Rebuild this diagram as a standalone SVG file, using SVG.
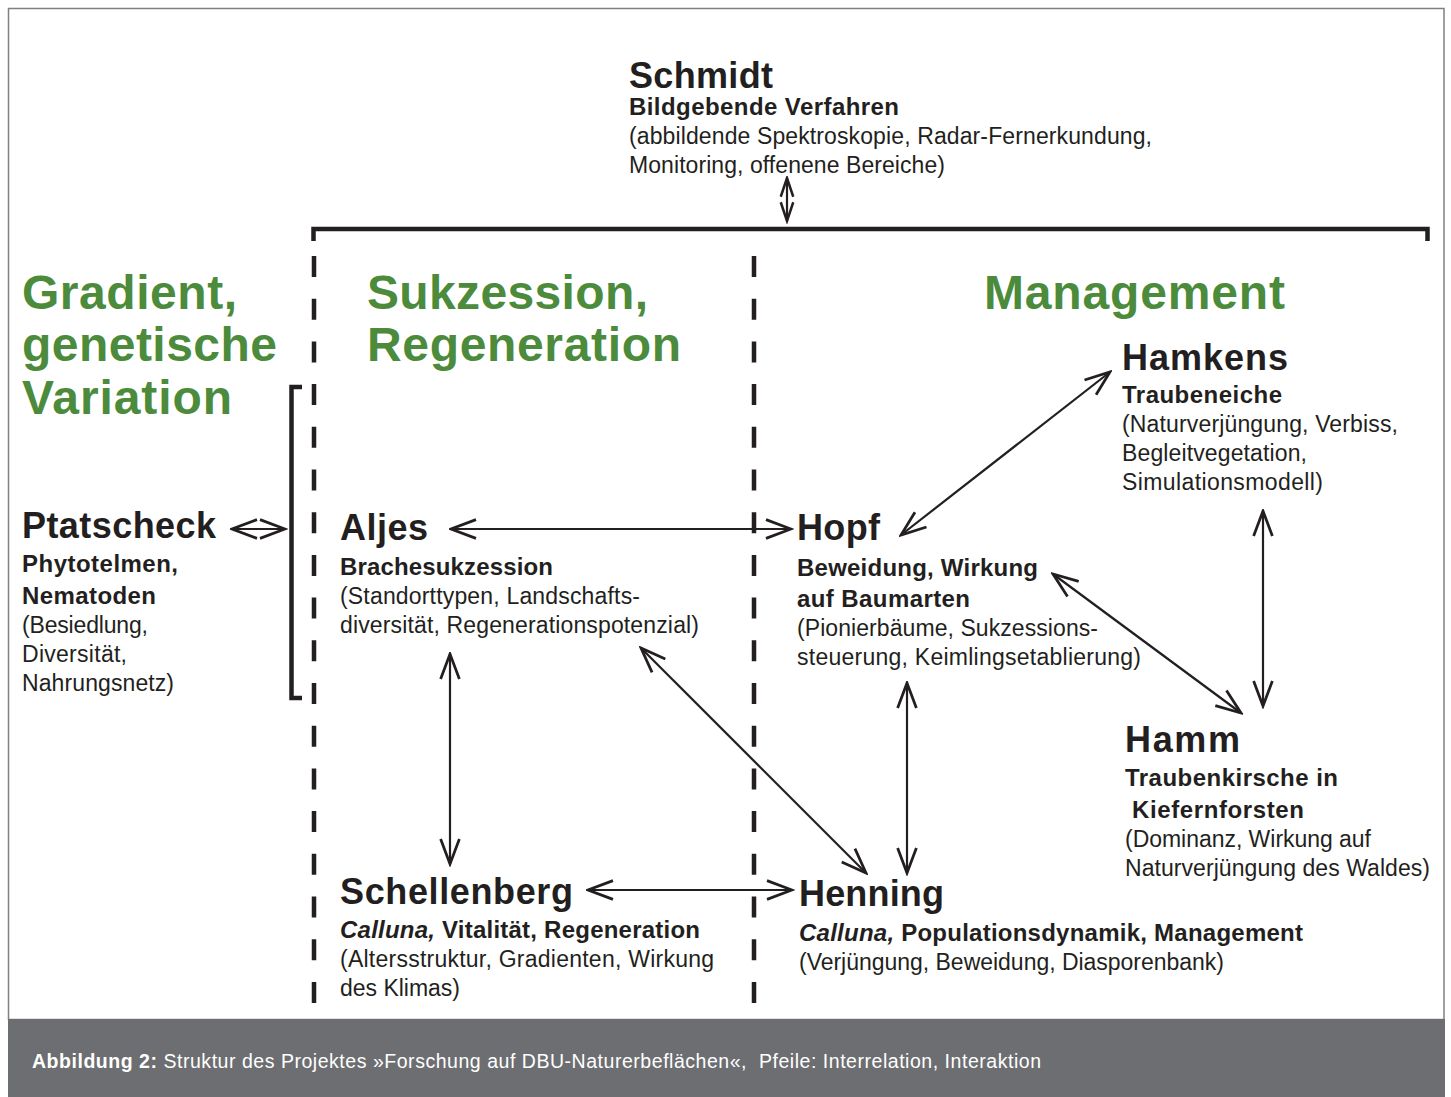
<svg xmlns="http://www.w3.org/2000/svg" width="1451" height="1097" viewBox="0 0 1451 1097">
<style>
text{font-family:"Liberation Sans",Arial,sans-serif;fill:#231f20}
.nm{font-size:36px;font-weight:bold}
.sb{font-size:24px;font-weight:bold}
.bd{font-size:23px}
.gr{font-size:48px;font-weight:bold;fill:#4b8b3b}
.cap{font-size:19.5px;fill:#fff;white-space:pre}
.arr{stroke:#231f20;stroke-width:2.2;fill:none;marker-start:url(#ah);marker-end:url(#ah)}
.arrs{stroke:#231f20;stroke-width:2.2;fill:none;marker-start:url(#ahs);marker-end:url(#ahs)}
.dash{stroke:#231f20;stroke-width:4.5;stroke-dasharray:21 21.7;fill:none}
.brk{stroke:#231f20;stroke-width:4.5;fill:none}
</style>
<defs>
<marker id="ah" markerUnits="userSpaceOnUse" markerWidth="30" markerHeight="30" viewBox="-22 -10 24 20" refX="0" refY="0" orient="auto-start-reverse">
<path d="M-20,-7.5 L0,0 L-20,7.5" fill="none" stroke="#231f20" stroke-width="2.2"/>
</marker>
<marker id="ahs" markerUnits="userSpaceOnUse" markerWidth="30" markerHeight="30" viewBox="-22 -10 24 20" refX="0" refY="0" orient="auto-start-reverse">
<path d="M-15,-5 L0,0 L-15,5" fill="none" stroke="#231f20" stroke-width="2"/>
</marker>
</defs>
<rect x="0" y="0" width="1451" height="1097" fill="#fff"/>
<rect x="8.5" y="8.5" width="1435.5" height="1011" fill="none" stroke="#808080" stroke-width="1.5"/>
<rect x="8" y="1019" width="1437" height="78" fill="#6d6e71"/>
<text class="cap" x="32" y="1068" textLength="1009" lengthAdjust="spacing"><tspan font-weight="bold">Abbildung 2:</tspan> Struktur des Projektes »Forschung auf DBU-Naturerbeflächen«,  Pfeile: Interrelation, Interaktion</text>

<g id="frame-lines">
<path class="brk" d="M313.5,241 V229 H1427.5 V241"/>
<path class="brk" d="M302,387 H291.5 V698 H302"/>
<line class="dash" x1="314" y1="256" x2="314" y2="1004"/>
<line class="dash" x1="754" y1="256" x2="754" y2="1004"/>
</g>

<g id="headings">
<text class="gr" x="22" y="309" textLength="215" lengthAdjust="spacing">Gradient,</text>
<text class="gr" x="22" y="361" textLength="255" lengthAdjust="spacing">genetische</text>
<text class="gr" x="22" y="414" textLength="210" lengthAdjust="spacing">Variation</text>
<text class="gr" x="367" y="309" textLength="281" lengthAdjust="spacing">Sukzession,</text>
<text class="gr" x="367" y="361" textLength="314" lengthAdjust="spacing">Regeneration</text>
<text class="gr" x="984" y="309" textLength="301" lengthAdjust="spacing">Management</text>
</g>

<g id="schmidt">
<text class="nm" x="629" y="88" textLength="144" lengthAdjust="spacing">Schmidt</text>
<text class="sb" x="629" y="115" textLength="270" lengthAdjust="spacing">Bildgebende Verfahren</text>
<text class="bd" x="629" y="144" textLength="523" lengthAdjust="spacing">(abbildende Spektroskopie, Radar-Fernerkundung,</text>
<text class="bd" x="629" y="173" textLength="316" lengthAdjust="spacing">Monitoring, offenene Bereiche)</text>
</g>

<g id="ptatscheck">
<text class="nm" x="22" y="538" textLength="194" lengthAdjust="spacing">Ptatscheck</text>
<text class="sb" x="22" y="572" textLength="156" lengthAdjust="spacing">Phytotelmen,</text>
<text class="sb" x="22" y="604" textLength="134" lengthAdjust="spacing">Nematoden</text>
<text class="bd" x="22" y="633" textLength="126" lengthAdjust="spacing">(Besiedlung,</text>
<text class="bd" x="22" y="662" textLength="105" lengthAdjust="spacing">Diversität,</text>
<text class="bd" x="22" y="691" textLength="152" lengthAdjust="spacing">Nahrungsnetz)</text>
</g>

<g id="aljes">
<text class="nm" x="340" y="540" textLength="88" lengthAdjust="spacing">Aljes</text>
<text class="sb" x="340" y="575" textLength="213" lengthAdjust="spacing">Brachesukzession</text>
<text class="bd" x="340" y="604" textLength="300" lengthAdjust="spacing">(Standorttypen, Landschafts-</text>
<text class="bd" x="340" y="633" textLength="359" lengthAdjust="spacing">diversität, Regenerationspotenzial)</text>
</g>

<g id="hopf">
<text class="nm" x="797" y="540" textLength="83" lengthAdjust="spacing">Hopf</text>
<text class="sb" x="797" y="576" textLength="241" lengthAdjust="spacing">Beweidung, Wirkung</text>
<text class="sb" x="797" y="607" textLength="173" lengthAdjust="spacing">auf Baumarten</text>
<text class="bd" x="797" y="636" textLength="301" lengthAdjust="spacing">(Pionierbäume, Sukzessions-</text>
<text class="bd" x="797" y="665" textLength="344" lengthAdjust="spacing">steuerung, Keimlingsetablierung)</text>
</g>

<g id="hamkens">
<text class="nm" x="1122" y="370" textLength="166" lengthAdjust="spacing">Hamkens</text>
<text class="sb" x="1122" y="403" textLength="160" lengthAdjust="spacing">Traubeneiche</text>
<text class="bd" x="1122" y="432" textLength="276" lengthAdjust="spacing">(Naturverjüngung, Verbiss,</text>
<text class="bd" x="1122" y="461" textLength="185" lengthAdjust="spacing">Begleitvegetation,</text>
<text class="bd" x="1122" y="490" textLength="201" lengthAdjust="spacing">Simulationsmodell)</text>
</g>

<g id="hamm">
<text class="nm" x="1125" y="752" textLength="115" lengthAdjust="spacing">Hamm</text>
<text class="sb" x="1125" y="786" textLength="213" lengthAdjust="spacing">Traubenkirsche in</text>
<text class="sb" x="1132" y="818" textLength="172" lengthAdjust="spacing">Kiefernforsten</text>
<text class="bd" x="1125" y="847" textLength="246" lengthAdjust="spacing">(Dominanz, Wirkung auf</text>
<text class="bd" x="1125" y="876" textLength="305" lengthAdjust="spacing">Naturverjüngung des Waldes)</text>
</g>

<g id="schellenberg">
<text class="nm" x="340" y="904" textLength="233" lengthAdjust="spacing">Schellenberg</text>
<text class="sb" x="340" y="938" textLength="360" lengthAdjust="spacing"><tspan font-style="italic">Calluna,</tspan> Vitalität, Regeneration</text>
<text class="bd" x="340" y="967" textLength="374" lengthAdjust="spacing">(Altersstruktur, Gradienten, Wirkung</text>
<text class="bd" x="340" y="996" textLength="120" lengthAdjust="spacing">des Klimas)</text>
</g>

<g id="henning">
<text class="nm" x="799" y="906" textLength="145" lengthAdjust="spacing">Henning</text>
<text class="sb" x="799" y="941" textLength="504" lengthAdjust="spacing"><tspan font-style="italic">Calluna,</tspan> Populationsdynamik, Management</text>
<text class="bd" x="799" y="970" textLength="425" lengthAdjust="spacing">(Verjüngung, Beweidung, Diasporenbank)</text>
</g>

<g id="connectors">
<line class="arrs" x1="787" y1="178" x2="787" y2="221"/>
<line class="arr" x1="232" y1="529" x2="285" y2="529"/>
<line class="arr" x1="451" y1="529" x2="791" y2="529"/>
<line class="arr" x1="450" y1="654" x2="450" y2="864"/>
<line class="arr" x1="641" y1="648" x2="866" y2="873"/>
<line class="arr" x1="588" y1="890" x2="792" y2="890"/>
<line class="arr" x1="907" y1="683" x2="907" y2="873"/>
<line class="arr" x1="901" y1="535" x2="1110" y2="372"/>
<line class="arr" x1="1053" y1="574" x2="1241" y2="713"/>
<line class="arr" x1="1263" y1="511" x2="1263" y2="706"/>
</g>
</svg>
